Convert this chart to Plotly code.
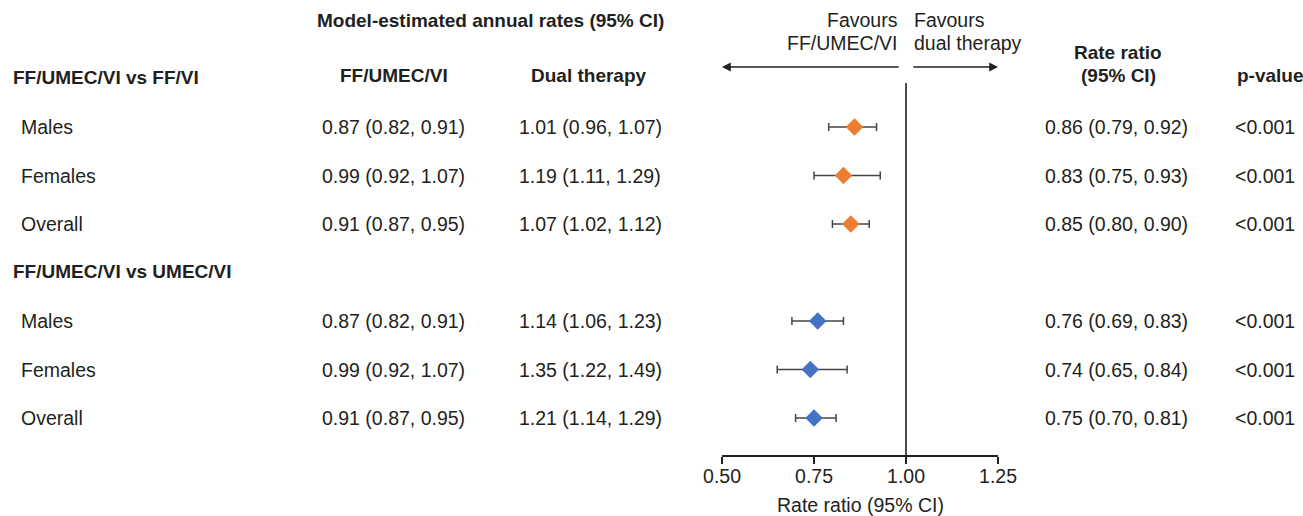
import plotly.graph_objects as go

# ---------------- data ----------------
sections = ["FF/UMEC/VI vs FF/VI", "FF/UMEC/VI vs UMEC/VI"]
subgroups = ["Males", "Females", "Overall"]
triple_rates = [["0.87 (0.82, 0.91)", "0.99 (0.92, 1.07)", "0.91 (0.87, 0.95)"],
                ["0.87 (0.82, 0.91)", "0.99 (0.92, 1.07)", "0.91 (0.87, 0.95)"]]
dual_rates = [["1.01 (0.96, 1.07)", "1.19 (1.11, 1.29)", "1.07 (1.02, 1.12)"],
              ["1.14 (1.06, 1.23)", "1.35 (1.22, 1.49)", "1.21 (1.14, 1.29)"]]
rr = [[0.86, 0.83, 0.85], [0.76, 0.74, 0.75]]
rr_low = [[0.79, 0.75, 0.80], [0.69, 0.65, 0.70]]
rr_high = [[0.92, 0.93, 0.90], [0.83, 0.84, 0.81]]
p_values = [["<0.001", "<0.001", "<0.001"], ["<0.001", "<0.001", "<0.001"]]
colors = ["#ED7D31", "#4472C4"]
x_ticks = [0.50, 0.75, 1.00, 1.25]

# ---------------- layout helpers ----------------
W, H = 1303, 516
ROW0_PX, ROW_STEP = 127.0, 48.5
AXIS_PX = 455.0
def idx(px):          # pixel -> row index on the forest y axis
    return 1 + (px - ROW0_PX) / ROW_STEP
def rowpx(r):         # row index -> pixel
    return ROW0_PX + (r - 1) * ROW_STEP

FONT = "Liberation Sans, Arial, sans-serif"
TXT = "#231f20"
FS = 19.5
FSB = 19

fig = go.Figure()
ann = []

row = 0
for s in range(len(sections)):
    ann.append(dict(x=11, y=rowpx(row) - 1, text="<b>%s</b>" % sections[s], xanchor="left", fs=FSB))
    for g in range(len(subgroups)):
        row += 1
        y = rowpx(row)
        ann.append(dict(x=19, y=y, text=subgroups[g], xanchor="left"))
        ann.append(dict(x=393, y=y, text=triple_rates[s][g], xanchor="center"))
        ann.append(dict(x=590, y=y, text=dual_rates[s][g], xanchor="center"))
        ann.append(dict(x=1116, y=y,
                        text="%.2f (%.2f, %.2f)" % (rr[s][g], rr_low[s][g], rr_high[s][g]),
                        xanchor="center"))
        ann.append(dict(x=1265, y=y, text=p_values[s][g], xanchor="center"))
    ys = list(range(row - 2, row + 1))
    fig.add_trace(go.Scatter(
        x=rr[s], y=ys, mode="markers",
        marker=dict(symbol="diamond", size=13.5, color=colors[s], line=dict(width=0)),
        error_x=dict(type="data", symmetric=False,
                     array=[h - v for h, v in zip(rr_high[s], rr[s])],
                     arrayminus=[v - l for l, v in zip(rr_low[s], rr[s])],
                     color="#454545", thickness=1.5, width=4),
        showlegend=False, hoverinfo="skip"))
    row += 1

# column headers
ann.append(dict(x=490, y=20, text="<b>Model-estimated annual rates (95% CI)</b>", xanchor="center", fs=FSB))
ann.append(dict(x=394, y=75, text="<b>FF/UMEC/VI</b>", xanchor="center", fs=FSB))
ann.append(dict(x=589, y=75, text="<b>Dual therapy</b>", xanchor="center", fs=FSB))
ann.append(dict(x=1118, y=52, text="<b>Rate ratio</b>", xanchor="center", fs=FSB))
ann.append(dict(x=1118, y=75, text="<b>(95% CI)</b>", xanchor="center", fs=FSB))
ann.append(dict(x=1270, y=75, text="<b>p-value</b>", xanchor="center", fs=FSB))
# favours labels
ann.append(dict(x=900, y=20, text="Favours", xanchor="right"))
ann.append(dict(x=900, y=43, text="FF/UMEC/VI", xanchor="right"))
ann.append(dict(x=912, y=20, text="Favours", xanchor="left"))
ann.append(dict(x=912, y=43, text="dual therapy", xanchor="left"))
# axis title
ann.append(dict(x=860, y=505, text="Rate ratio (95% CI)", xanchor="center"))

annotations = []
for a in ann:
    size = a.pop("fs", FS)
    a.update(xref="x2", yref="y2", showarrow=False, yanchor="middle",
             font=dict(family=FONT, size=size, color=TXT))
    annotations.append(a)

# direction arrows
arrow_y = idx(67)
for head, tail in [(0.50, 0.984), (1.25, 1.016)]:
    annotations.append(dict(x=head, y=arrow_y, ax=tail, ay=arrow_y, xref="x", yref="y",
                            axref="x", ayref="y", text="", showarrow=True,
                            arrowhead=2, arrowsize=1.1, arrowwidth=1.6, arrowcolor=TXT))

# invisible full-frame pixel axes to host the table text
fig.add_trace(go.Scatter(x=[], y=[], xaxis="x2", yaxis="y2", showlegend=False, hoverinfo="skip"))

fig.update_layout(
    width=W, height=H, margin=dict(l=0, r=0, t=0, b=0, autoexpand=False),
    paper_bgcolor="white", plot_bgcolor="rgba(0,0,0,0)",
    annotations=annotations,
    shapes=[dict(type="line", xref="x", yref="y", x0=1, x1=1,
                 y0=idx(AXIS_PX), y1=idx(83), line=dict(color=TXT, width=1.6))],
    xaxis=dict(domain=[722 / W, 998 / W], range=[0.5, 1.25], anchor="y",
               tickvals=x_ticks, ticktext=["%.2f" % v for v in x_ticks],
               showline=True, linecolor=TXT, linewidth=1.6,
               ticks="outside", ticklen=7, tickwidth=1.6, tickcolor=TXT,
               ticklabelstandoff=-4,
               showgrid=False, zeroline=False, automargin=False,
               tickfont=dict(family=FONT, size=FS, color=TXT)),
    yaxis=dict(domain=[(H - AXIS_PX) / H, 1], range=[idx(AXIS_PX), idx(0)], anchor="x",
               visible=False, showgrid=False, zeroline=False, automargin=False),
    xaxis2=dict(domain=[0, 1], range=[0, W], anchor="y2", visible=False,
                showgrid=False, zeroline=False, automargin=False),
    yaxis2=dict(domain=[0, 1], range=[H, 0], anchor="x2", visible=False,
                showgrid=False, zeroline=False, automargin=False),
)

fig.write_html("out.html")
